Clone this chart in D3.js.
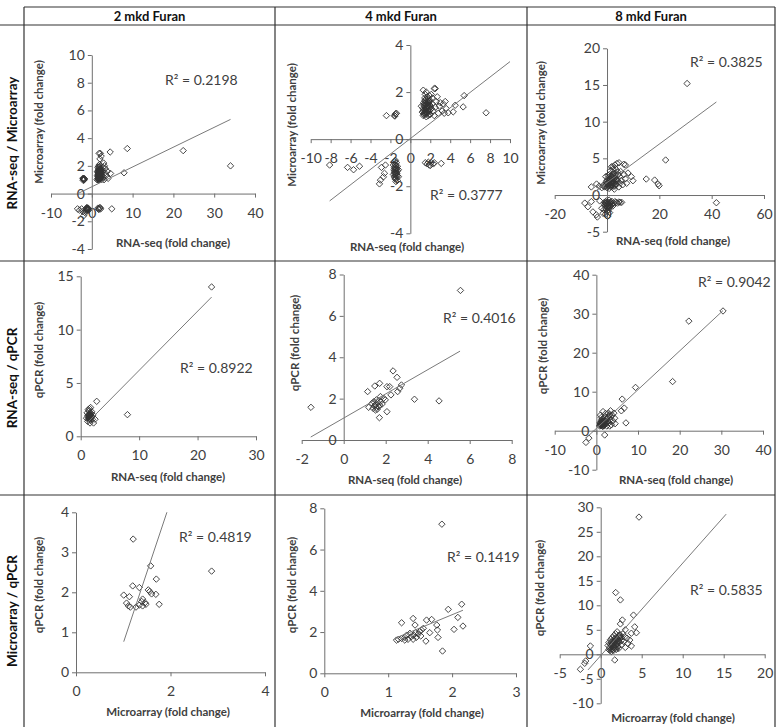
<!DOCTYPE html>
<html>
<head>
<meta charset="utf-8">
<script src="https://cdn.jsdelivr.net/npm/d3@7"></script>
<style>
  body { margin: 0; background: #fff; }
  text { font-family: Lato, "Open Sans", sans-serif; }
</style>
</head>
<body>
<script>
const colLabels = ["2 mkd Furan", "4 mkd Furan", "8 mkd Furan"];
const rowLabels = ["RNA-seq / Microarray", "RNA-seq / qPCR", "Microarray / qPCR"];
const xTitles = ["RNA-seq (fold change)", "RNA-seq (fold change)", "Microarray (fold change)"];
const yTitles = ["Microarray (fold change)", "qPCR (fold change)", "qPCR (fold change)"];

// panels in reading order: row 1 (cols 1..3), row 2, row 3
const r2Values = ["0.2198", "0.3777", "0.3825", "0.8922", "0.4016", "0.9042", "0.4819", "0.1419", "0.5835"];

const xDomains = [[-10, 40], [-10, 10], [-20, 60], [0, 30], [-2, 8], [-10, 40], [0, 4], [0, 3], [-5, 20]];
const yDomains = [[-4, 10], [-4, 4], [-5, 20], [0, 15], [0, 8], [-10, 40], [0, 4], [0, 8], [-10, 30]];

const xTicks = [
  [-10, 0, 10, 20, 30, 40],
  [-10, -8, -6, -4, -2, 0, 2, 4, 6, 8, 10],
  [-20, 0, 20, 40, 60],
  [0, 10, 20, 30],
  [-2, 0, 2, 4, 6, 8],
  [-10, 0, 10, 20, 30, 40],
  [0, 2, 4],
  [0, 1, 2, 3],
  [-5, 0, 5, 10, 15, 20]
];
const yTicks = [
  [-4, -2, 0, 2, 4, 6, 8, 10],
  [-4, -2, 0, 2, 4],
  [-5, 0, 5, 10, 15, 20],
  [0, 5, 10, 15],
  [0, 2, 4, 6, 8],
  [-10, 0, 10, 20, 30, 40],
  [0, 1, 2, 3, 4],
  [0, 2, 4, 6, 8],
  [-10, -5, 0, 5, 10, 15, 20, 25, 30]
];

// linear trendlines: y = intercept + slope * x, drawn over [xFrom, xTo]
const trendSlope = [0.143, 0.327, 0.263, 0.554, 0.584, 0.994, 3.54, 1.28, 1.887];
const trendIntercept = [0.49, 0.024, 1.69, 0.64, 1.06, 0.58, -2.81, 0.28, -0.27];
const trendFrom = [-3.4, -8.1, -5, 1.1, -1.57, -2.5, 1.01, 1.13, -1.55];
const trendTo = [34, 10, 41.8, 22.4, 5.54, 30.4, 2.87, 2.17, 15.3];

const pts11 = [
  [-2.1, 1.05], [-1.9, 1.1], [-2.0, 1.0], [-1.8, 1.05], [-2.2, 1.1], [-1.9, 0.98], [-2.0, 1.08], [-2.1, 0.95],
  [-3.5, -1.1], [-3.0, -1.2], [-2.5, -1.1], [-2.0, -1.6], [-1.6, -1.4], [-2.2, -1.3], [-1.4, -1.1],
  [-1.2, -1.0], [-1.0, -1.15], [-1.3, -1.2], [-0.9, -1.05], [-1.1, -1.1], [-1.5, -1.25], [-0.8, -1.2],
  [-1.15, -1.05], [-1.05, -1.2], [-1.25, -1.12], [-0.95, -1.1],
  [1.5, -1.05], [1.8, -1.1], [2.0, -1.0], [1.7, -1.15], [2.2, -1.1], [1.9, -1.05], [4.9, -1.1],
  [1.3, 1.0], [1.5, 1.1], [1.6, 1.2], [1.7, 1.3], [1.8, 1.4], [1.9, 1.5], [2.0, 1.6], [1.6, 1.7],
  [1.7, 1.8], [1.8, 1.9], [1.5, 1.5], [1.4, 1.3], [2.1, 1.2], [2.2, 1.4], [2.3, 1.7], [1.9, 1.1],
  [2.0, 1.0], [1.6, 0.95], [2.4, 1.0], [2.5, 1.3], [1.7, 2.0], [1.9, 2.1], [2.1, 2.0], [1.5, 1.9],
  [2.2, 1.8], [2.6, 1.6], [2.8, 1.2], [3.0, 1.0], [2.7, 1.9], [3.2, 1.5], [3.5, 1.3], [3.3, 1.8],
  [2.9, 2.2], [3.1, 2.0], [4.0, 1.1], [3.8, 1.6], [2.0, 2.5], [1.8, 2.9], [2.1, 2.9], [2.3, 2.7],
  [1.4, 1.6], [1.8, 1.2], [2.0, 1.3], [1.7, 1.5], [1.9, 1.7], [2.1, 1.5], [2.4, 1.5], [2.6, 1.1],
  [1.6, 1.4], [2.2, 1.1],
  [1.55, 1.05], [1.65, 1.15], [1.75, 1.25], [1.85, 1.35], [1.95, 1.45], [2.05, 1.55], [2.15, 1.65],
  [1.55, 1.35], [1.65, 1.55], [1.75, 1.65], [1.85, 1.05], [1.95, 1.25], [2.05, 1.15], [2.15, 1.35],
  [1.6, 1.6], [1.8, 1.6], [2.0, 1.75], [1.7, 1.0], [1.9, 1.3], [2.1, 1.45], [1.5, 1.25], [1.6, 1.05],
  [2.2, 1.55], [1.75, 1.45],
  [4.5, 3.0], [8.7, 3.25], [4.6, 1.45], [7.9, 1.5], [22.4, 3.1], [34, 2.0]
];
const pts12 = [
  [-8.1, -1.1], [-6.3, -1.2], [-5.7, -1.3], [-5.1, -1.15], [-2.4, 1.0],
  [-1.6, 1.0], [-1.5, 1.05], [-1.4, 1.1], [-1.55, 0.98], [-1.45, 1.08],
  [-3.0, -1.74], [-2.7, -1.6], [-3.1, -1.9], [-2.5, -1.1], [-2.9, -1.2], [-2.6, -1.45],
  [-1.6, -0.95], [-1.4, -1.0], [-1.5, -1.1], [-1.3, -1.15], [-1.6, -1.2], [-1.4, -1.25], [-1.5, -1.3],
  [-1.3, -1.35], [-1.6, -1.4], [-1.4, -1.45], [-1.5, -1.5], [-1.3, -1.55], [-1.6, -1.6], [-1.4, -1.65],
  [-1.5, -1.7], [-1.3, -1.75], [-1.7, -1.1], [-1.2, -1.3], [-1.7, -1.5], [-1.2, -1.6], [-1.5, -0.9],
  [-1.45, -1.8],
  [-1.55, -1.05], [-1.45, -1.15], [-1.55, -1.25], [-1.45, -1.35], [-1.55, -1.45], [-1.45, -1.55],
  [-1.55, -1.65], [-1.35, -1.25], [-1.35, -1.45], [-1.65, -1.3],
  [1.5, -1.0], [1.7, -1.05], [1.9, -1.1], [2.1, -1.0], [2.3, -1.05], [1.8, -0.98], [2.0, -1.12],
  [2.4, -1.0], [3.1, -1.03],
  [1.3, 1.0], [1.4, 1.1], [1.5, 1.2], [1.6, 1.3], [1.7, 1.4], [1.8, 1.5], [1.9, 1.6], [1.4, 1.5],
  [1.5, 1.6], [1.6, 1.7], [1.3, 1.3], [1.35, 1.45], [1.45, 1.75], [1.7, 1.8], [1.9, 1.2], [2.0, 1.05],
  [1.8, 1.0], [1.6, 0.95], [2.1, 1.3], [2.2, 1.5], [2.3, 1.2], [2.4, 1.0], [2.5, 1.35], [2.6, 1.6],
  [2.8, 1.1], [2.9, 1.4], [3.0, 1.55], [3.2, 1.2], [3.4, 1.1], [3.6, 1.3], [3.3, 1.5], [2.7, 1.8],
  [2.2, 1.75], [1.9, 1.85], [1.5, 1.9], [1.7, 1.1], [1.4, 1.25], [1.55, 1.45], [2.0, 1.4], [1.2, 1.15],
  [1.1, 1.4], [1.3, 2.08], [2.4, 2.15], [2.5, 2.15], [1.6, 2.0], [2.1, 1.9], [3.5, 1.6],
  [1.35, 1.05], [1.45, 1.15], [1.55, 1.25], [1.65, 1.35], [1.75, 1.45], [1.85, 1.55], [1.95, 1.65],
  [1.35, 1.55], [1.45, 1.65], [1.55, 1.05], [1.65, 1.15], [1.75, 1.25], [1.85, 1.35], [1.95, 1.45],
  [1.4, 1.4], [1.6, 1.5], [1.8, 1.7], [1.5, 1.35], [1.7, 1.6], [1.9, 1.05], [1.3, 1.2], [2.0, 1.25],
  [1.6, 1.1], [1.8, 1.2],
  [4.5, 1.44], [5.4, 1.85], [5.3, 1.37], [7.6, 1.12], [4.3, 1.16], [3.8, 1.12]
];
const pts13 = [
  [30.6, 15.2], [22.4, 4.77], [15.0, 2.18], [18.2, 2.04], [19.5, 1.5], [19.9, 1.27], [41.8, -1.05],
  [9.3, 2.5], [9.9, 1.95], [6.4, 4.2], [7.0, 4.1], [4.6, 4.4], [2.3, 3.86], [1.7, 3.85], [3.0, 4.1], [3.8, 4.3],
  [-8.5, -1.1], [-7.3, -1.6], [-5.4, -2.3], [-4.1, -2.7], [-6, -0.9], [-3.7, -3.0], [-2.8, -0.8],
  [-2.0, -1.8], [-1.5, -2.5],
  [-1.0, -1.0], [-0.5, -1.2], [0, -1.4], [0.5, -1.1], [1.0, -1.3], [1.5, -1.0], [2.0, -1.2], [-0.8, -1.5],
  [0.3, -1.7], [1.2, -1.6], [2.5, -1.1], [3.0, -0.9], [3.5, -1.0], [4.0, -1.1], [4.5, -0.95], [5.0, -1.0],
  [5.6, -1.0], [-0.3, -0.8], [0.8, -0.7], [1.8, -0.85], [-1.2, -2.0], [0, -2.2], [0.6, -2.0], [-0.4, -1.9],
  [2.2, -1.5], [1.0, -2.4], [-0.6, -2.6], [0.2, -2.9],
  [-0.7, -1.1], [-0.2, -1.3], [0.2, -1.0], [0.7, -1.4], [1.2, -1.1], [1.7, -1.3], [-0.9, -1.3],
  [0.1, -1.6], [0.9, -1.0], [1.4, -1.5], [-0.4, -1.05], [0.5, -1.55],
  [-6, 1.1], [-4, 1.5], [-3, 1.2], [-2, 1.0], [-1.5, 1.3], [-1, 1.1], [-0.5, 1.5], [0, 1.0], [0.5, 1.3],
  [1, 1.6], [1.5, 1.1], [2, 1.4], [2.5, 1.8], [3, 1.2], [3.5, 1.5], [4, 1.9], [4.5, 1.1], [5, 1.6],
  [0, 2.0], [0.5, 2.4], [1, 2.8], [1.5, 2.2], [2, 2.6], [2.5, 3.0], [3, 2.3], [3.5, 2.7], [4, 3.2],
  [4.8, 2.5], [5.5, 2.0], [6, 1.4], [6.5, 2.8], [7, 2.2], [7.5, 1.6], [8, 3.0], [-0.5, 2.5], [1.2, 3.3],
  [2.2, 3.5], [3.2, 3.6], [0.8, 0.9], [2.8, 0.8], [1.8, 1.9], [2.8, 2.0], [0.2, 1.7], [1.4, 1.4],
  [2.4, 1.2], [3.8, 2.2], [4.3, 2.8], [5.2, 3.2],
  [-0.8, 1.2], [-0.3, 1.8], [0.3, 1.2], [0.7, 1.9], [1.3, 1.3], [1.7, 2.4], [2.3, 1.6], [2.7, 2.2],
  [3.3, 1.4], [3.7, 2.0], [0.4, 2.7], [1.1, 2.1], [1.9, 1.2], [2.6, 2.6], [3.1, 2.9], [0.9, 1.4],
  [1.6, 1.7], [2.1, 2.1], [2.9, 1.7], [0, 1.5], [1.5, 2.6], [2.3, 2.8]
];
const pts21 = [
  [22.4, 14.0], [2.74, 3.28], [8.0, 2.03],
  [1.5, 2.6], [1.9, 2.3], [1.1, 2.2], [1.6, 1.25], [2.2, 1.25], [2.45, 1.6], [1.4, 1.8], [1.5, 1.7],
  [1.6, 1.9], [1.7, 2.0], [1.3, 1.6], [1.8, 1.75], [1.5, 2.0], [1.6, 2.2], [1.4, 2.4], [1.7, 1.5],
  [1.2, 1.9], [1.9, 1.9], [2.0, 1.6], [1.55, 1.85], [1.45, 1.65], [1.65, 1.75], [1.35, 2.05],
  [1.75, 2.15], [1.0, 1.7], [1.2, 1.4], [2.1, 2.0], [1.7, 2.7], [1.3, 2.5],
  [1.45, 1.75], [1.55, 1.95], [1.65, 1.85], [1.5, 1.8], [1.6, 2.05], [1.7, 1.9], [1.4, 1.95],
  [1.75, 1.8], [1.55, 1.6]
];
const pts22 = [
  [-1.56, 1.58], [5.56, 7.23], [1.14, 2.34], [1.48, 2.61], [1.71, 2.74], [2.35, 3.34], [2.54, 3.03],
  [2.06, 2.58], [2.19, 2.58], [2.25, 2.18], [2.57, 2.34], [2.75, 2.66], [2.67, 2.5], [3.37, 1.97],
  [4.54, 1.89], [1.19, 1.58], [2.06, 1.37], [1.7, 1.08], [1.75, 2.1],
  [1.35, 1.77], [1.43, 1.85], [1.51, 1.69], [1.56, 1.94], [1.62, 1.81], [1.67, 1.61], [1.40, 1.53],
  [1.51, 1.45], [1.75, 1.85], [1.9, 2.02], [1.83, 1.74], [1.59, 1.48], [1.98, 1.94], [1.46, 1.65],
  [1.71, 1.69], [1.56, 1.58]
];
const pts23 = [
  [30.4, 30.7], [22.2, 28.1], [18.3, 12.6], [9.4, 11.1], [6.2, 8.1], [6.7, 5.8], [6.0, 5.1], [7.1, 2.0],
  [2.0, -1.1], [-2.5, -3.0], [-1.8, -1.9], [1.6, 4.9], [3.4, 5.1], [4.2, 4.5],
  [0.8, 1.2], [1.0, 1.5], [1.2, 1.8], [1.4, 2.1], [1.6, 2.4], [1.8, 1.3], [2.0, 1.6], [2.2, 1.9],
  [2.4, 2.2], [1.1, 2.5], [1.3, 2.8], [1.5, 1.1], [1.7, 1.7], [1.9, 2.0], [2.1, 2.6], [2.3, 2.9],
  [2.6, 3.2], [2.8, 3.5], [3.0, 3.8], [3.2, 4.1], [3.5, 3.6], [3.8, 4.0], [2.7, 2.5], [3.0, 2.0],
  [3.3, 2.8], [3.6, 1.5], [4.0, 2.5], [4.4, 3.2], [2.5, 1.2], [1.2, 3.4], [1.0, 4.0], [2.0, 3.5],
  [0.9, 2.0], [1.5, 3.0], [4.5, 1.8], [3.2, 1.2], [2.2, 4.4], [1.7, 1.2], [1.3, 1.5], [2.9, 4.5],
  [0.9, 1.4], [1.1, 1.7], [1.3, 2.0], [1.5, 2.3], [1.7, 2.6], [1.9, 1.5], [2.1, 1.8], [2.3, 2.1],
  [1.2, 1.3], [1.4, 1.6], [1.6, 1.9], [1.8, 2.2], [2.0, 2.5], [1.0, 1.9], [1.6, 1.4], [1.3, 2.4]
];
const pts31 = [
  [1.21, 3.33], [2.87, 2.53], [1.58, 2.66], [1.70, 2.33], [1.2, 2.16], [1.34, 2.12], [1.53, 2.06],
  [1.56, 2.02], [1.6, 1.96], [1.69, 1.95], [1.01, 1.93], [1.13, 1.89], [1.41, 1.83], [1.46, 1.74],
  [1.76, 1.7], [1.07, 1.73], [1.11, 1.66], [1.15, 1.63], [1.27, 1.63], [1.34, 1.68], [1.41, 1.66],
  [1.48, 1.7], [1.39, 1.77]
];
const pts32 = [
  [1.84, 7.23], [2.15, 3.35], [1.94, 3.1], [2.09, 2.71], [2.17, 2.29], [2.03, 2.13], [1.21, 2.45],
  [1.39, 2.66], [1.42, 2.34], [1.6, 2.58], [1.68, 2.61], [1.76, 2.34], [1.77, 2.1], [1.65, 1.97],
  [1.78, 1.74], [1.59, 1.56], [1.85, 1.08], [1.13, 1.61],
  [1.21, 1.69], [1.26, 1.74], [1.29, 1.85], [1.31, 1.65], [1.34, 1.94], [1.36, 1.77], [1.40, 1.85],
  [1.43, 1.97], [1.47, 1.9], [1.49, 2.02], [1.52, 2.1], [1.44, 1.74], [1.39, 1.65], [1.26, 1.61],
  [1.51, 1.81], [1.55, 2.18], [1.16, 1.65]
];
const pts33 = [
  [4.67, 28.0], [1.83, 12.6], [2.4, 11.1], [2.64, 7.0], [2.4, 6.2], [4.0, 8.0], [4.15, 5.6], [4.35, 4.4],
  [3.74, 4.3], [3.54, 2.9], [3.74, 1.7], [3.33, 2.2], [2.93, 3.6], [1.91, 1.0], [1.71, -1.16],
  [-1.26, 1.7], [-1.83, -1.36], [-1.95, -1.84], [-2.48, -3.06],
  [1.0, 1.0], [1.1, 1.5], [1.2, 2.0], [1.3, 2.5], [1.4, 1.2], [1.5, 1.8], [1.6, 2.3], [1.7, 2.8],
  [1.8, 1.5], [1.9, 2.0], [2.0, 2.6], [2.1, 3.1], [2.2, 3.6], [2.3, 4.0], [2.4, 3.9], [2.5, 3.4],
  [1.2, 3.0], [1.4, 3.4], [1.6, 3.8], [1.8, 4.2], [2.0, 4.6], [1.0, 2.4], [0.9, 1.8], [1.3, 0.6],
  [1.6, 0.8], [2.2, 1.2], [2.6, 2.0], [2.8, 2.6], [3.0, 1.4], [1.5, 1.0], [1.1, 0.8], [1.7, 1.2],
  [2.0, 1.6], [1.4, 2.1], [2.5, 2.8], [3.2, 3.3], [2.7, 4.2], [3.0, 5.0], [1.9, 3.3],
  [1.1, 1.2], [1.3, 1.7], [1.5, 2.2], [1.7, 2.5], [1.9, 2.9], [2.1, 2.2], [1.2, 1.4], [1.4, 1.9],
  [1.6, 1.5], [1.8, 1.9], [2.0, 2.1], [2.2, 2.7], [2.3, 3.3], [1.5, 2.6], [1.3, 1.0], [2.4, 3.6],
  [1.7, 3.2], [2.1, 1.5]
];
const points = [pts11, pts12, pts13, pts21, pts22, pts23, pts31, pts32, pts33];

// layout (pixels): plot ranges, label anchors
const layout = [
  { xr: [51, 255], yr: [249, 55], r2: [165, 80], xt: [173, 243], yt: [39, 122] },
  { xr: [310.7, 510], yr: [233.3, 45], r2: [430, 195], xt: [407, 247], yt: [292, 125] },
  { xr: [554.7, 764], yr: [231.7, 48.3], r2: [690, 62], xt: [673, 241], yt: [541, 123] },
  { xr: [80.7, 256], yr: [436.3, 276.3], r2: [180, 368], xt: [168, 477], yt: [39, 350] },
  { xr: [301.7, 511.7], yr: [440, 274.5], r2: [443, 318], xt: [405, 480], yt: [295, 343] },
  { xr: [554.7, 763], yr: [469.7, 274.7], r2: [698, 282], xt: [676, 480], yt: [543, 346] },
  { xr: [76, 265], yr: [672.3, 512.3], r2: [179, 537], xt: [168, 712], yt: [39, 585] },
  { xr: [324.3, 516], yr: [673.3, 508.3], r2: [447, 557], xt: [422, 713], yt: [292, 585] },
  { xr: [559.7, 764.7], yr: [703.3, 507.3], r2: [690, 590], xt: [673, 718], yt: [540, 588] }
];

const W = 783, H = 727;
const colX = [24, 275, 527, 775];
const rowY = [25, 261, 495];
const topY = 7;

const svg = d3.select("body").append("svg")
  .attr("width", W)
  .attr("height", H);

// table grid
const grid = svg.append("g").attr("stroke", "#333").attr("stroke-width", 1.2);
grid.append("line").attr("x1", colX[0]).attr("x2", colX[3]).attr("y1", topY).attr("y2", topY);
rowY.forEach(yv => {
  grid.append("line").attr("x1", 0).attr("x2", colX[3]).attr("y1", yv).attr("y2", yv);
});
colX.forEach(xv => {
  grid.append("line").attr("x1", xv).attr("x2", xv).attr("y1", topY).attr("y2", H);
});

// column headers
colLabels.forEach((t, i) => {
  svg.append("text")
    .attr("x", (colX[i] + colX[i + 1]) / 2)
    .attr("y", (topY + rowY[0]) / 2)
    .attr("dy", "0.35em")
    .attr("text-anchor", "middle")
    .style("font-size", "13px")
    .style("font-weight", "bold")
    .attr("fill", "#111")
    .text(t);
});

// row headers
const rowBottoms = [rowY[1], rowY[2], H];
rowLabels.forEach((t, i) => {
  const cy = (rowY[i] + rowBottoms[i]) / 2;
  svg.append("text")
    .attr("transform", `translate(12,${cy}) rotate(-90)`)
    .attr("dy", "0.35em")
    .attr("text-anchor", "middle")
    .style("font-size", "13.5px")
    .style("font-weight", "bold")
    .attr("fill", "#111")
    .text(t);
});

const diamond = "M0,-3.2L3.2,0L0,3.2L-3.2,0Z";

points.forEach((pts, i) => {
  const L = layout[i];
  const row = Math.floor(i / 3);
  const x = d3.scaleLinear().domain(xDomains[i]).range(L.xr);
  const y = d3.scaleLinear().domain(yDomains[i]).range(L.yr);
  const g = svg.append("g");

  const clipId = "clip" + i;
  g.append("clipPath").attr("id", clipId)
    .append("rect")
    .attr("x", L.xr[0]).attr("y", L.yr[1])
    .attr("width", L.xr[1] - L.xr[0]).attr("height", L.yr[0] - L.yr[1]);

  // axes cross at zero
  const xAxis = g.append("g")
    .attr("transform", `translate(0,${y(0)})`)
    .call(d3.axisBottom(x).tickValues(xTicks[i]).tickSizeOuter(0).tickSizeInner(4).tickPadding(10).tickFormat(d => String(d)));
  const yAxis = g.append("g")
    .attr("transform", `translate(${x(0)},0)`)
    .call(d3.axisLeft(y).tickValues(yTicks[i]).tickSizeOuter(0).tickSizeInner(4).tickPadding(3).tickFormat(d => String(d)));

  [xAxis, yAxis].forEach(a => {
    a.select(".domain").attr("stroke", "#6e6e6e");
    a.selectAll(".tick line").attr("stroke", "#6e6e6e");
    a.selectAll(".tick text")
      .attr("fill", "#404040")
      .style("font-family", "Lato, 'Open Sans', sans-serif")
      .style("font-size", "14px");
  });

  // markers
  g.append("g")
    .selectAll("path")
    .data(pts)
    .join("path")
    .attr("d", diamond)
    .attr("transform", d => `translate(${x(d[0])},${y(d[1])})`)
    .attr("fill", "none")
    .attr("stroke", "#333")
    .attr("stroke-width", 0.9);

  // trendline
  const a = trendIntercept[i], b = trendSlope[i];
  const seg = [trendFrom[i], trendTo[i]].map(v => [v, a + b * v]);
  g.append("path")
    .attr("clip-path", `url(#${clipId})`)
    .attr("d", d3.line().x(d => x(d[0])).y(d => y(d[1]))(seg))
    .attr("fill", "none")
    .attr("stroke", "#7a7a7a")
    .attr("stroke-width", 1);

  // R² label
  g.append("text")
    .attr("x", L.r2[0])
    .attr("y", L.r2[1])
    .attr("dy", "0.35em")
    .style("font-size", "14px")
    .attr("fill", "#404040")
    .text("R\u00b2 = " + r2Values[i]);

  // axis titles
  g.append("text")
    .attr("x", L.xt[0])
    .attr("y", L.xt[1])
    .attr("dy", "0.35em")
    .attr("text-anchor", "middle")
    .style("font-size", "11.5px")
    .style("font-weight", "bold")
    .attr("fill", "#404040")
    .text(xTitles[row]);

  g.append("text")
    .attr("transform", `translate(${L.yt[0]},${L.yt[1]}) rotate(-90)`)
    .attr("dy", "0.35em")
    .attr("text-anchor", "middle")
    .style("font-size", "11.5px")
    .style("font-weight", "bold")
    .attr("fill", "#404040")
    .text(yTitles[row]);
});
</script>
</body>
</html>
